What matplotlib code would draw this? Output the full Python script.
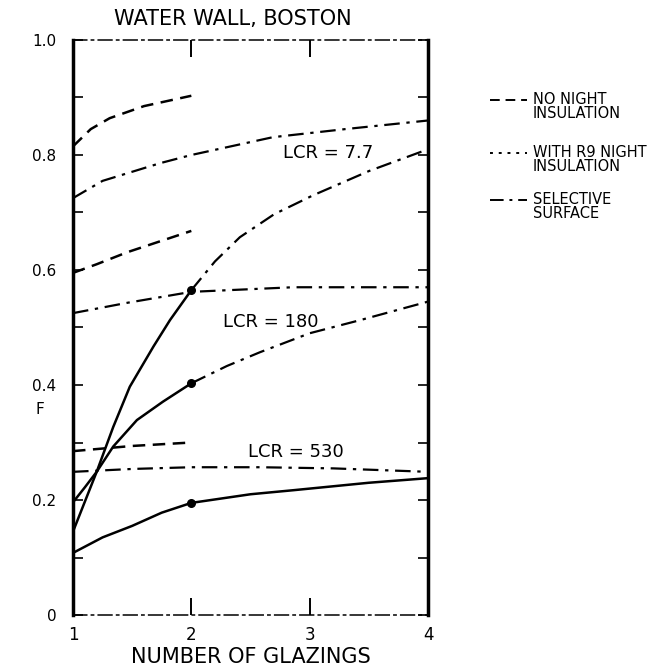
import numpy as np
import matplotlib.pyplot as plt
from matplotlib.lines import Line2D

plt.rcParams['font.family'] = ['DejaVu Sans']

# --- данные ---
# LCR = 7.7
x77_a = [1, 1.1, 1.2, 1.34, 1.48, 1.68, 1.82, 2]
f77_a = [0.145, 0.197, 0.249, 0.327, 0.397, 0.467, 0.513, 0.565]
x77_b = [2, 2.2, 2.41, 2.7, 3.03, 3.5, 4]
f77_b = [0.565, 0.615, 0.657, 0.697, 0.73, 0.772, 0.81]
x77_sel = [1, 1.25, 1.74, 2, 2.69, 3.3, 4]
f77_sel = [0.725, 0.755, 0.786, 0.80, 0.831, 0.845, 0.86]
x77_dash = [1, 1.15, 1.31, 1.6, 2]
f77_dash = [0.815, 0.845, 0.864, 0.885, 0.903]

# LCR = 180
x180_a = [1, 1.1, 1.2, 1.34, 1.54, 1.76, 2]
f180_a = [0.196, 0.222, 0.249, 0.293, 0.339, 0.371, 0.403]
x180_b = [2, 2.3, 2.58, 3.0, 3.43, 4]
f180_b = [0.403, 0.433, 0.457, 0.49, 0.513, 0.545]
x180_sel = [1, 1.46, 2, 2.86, 4]
f180_sel = [0.525, 0.543, 0.562, 0.57, 0.57]
x180_dash = [1, 1.2, 1.46, 2]
f180_dash = [0.595, 0.61, 0.631, 0.668]

# LCR = 530
x530 = [1, 1.25, 1.5, 1.75, 2, 2.5, 2.86, 3.5, 4]
f530 = [0.108, 0.135, 0.155, 0.178, 0.195, 0.21, 0.217, 0.23, 0.238]
x530_sel = [1, 1.5, 2, 2.58, 3.2, 4]
f530_sel = [0.249, 0.254, 0.257, 0.257, 0.255, 0.249]
x530_dash = [1, 1.5, 2]
f530_dash = [0.285, 0.294, 0.30]

dot_x = [2, 2, 2]
dot_f = [0.565, 0.403, 0.195]

fig = plt.figure(figsize=(6.6, 6.72), dpi=100)
ax = fig.add_axes([0.1106, 0.0848, 0.5379, 0.8557])

dashdot = (0, (7, 3, 1.5, 3))
dashed = (0, (5, 3))

for xs, fs in [(x77_a, f77_a), (x180_a, f180_a), (x530, f530)]:
    ax.plot(xs, fs, color='black', lw=1.8)
for xs, fs in [(x77_b, f77_b), (x180_b, f180_b)]:
    ax.plot(xs, fs, color='black', lw=1.6, ls=dashdot)
for xs, fs in [(x77_sel, f77_sel), (x180_sel, f180_sel), (x530_sel, f530_sel)]:
    ax.plot(xs, fs, color='black', lw=1.6, ls=dashdot)
for xs, fs in [(x77_dash, f77_dash), (x180_dash, f180_dash), (x530_dash, f530_dash)]:
    ax.plot(xs, fs, color='black', lw=1.8, ls=dashed)
ax.scatter(dot_x, dot_f, color='black', s=30, zorder=5)

ax.text(3.16, 0.803, 'LCR = 7.7', fontsize=13, ha='center', va='center')
ax.text(2.67, 0.51, 'LCR = 180', fontsize=13, ha='center', va='center')
ax.text(2.88, 0.283, 'LCR = 530', fontsize=13, ha='center', va='center')

ax.set_xlim(1, 4)
ax.set_ylim(0, 1.0)
ax.set_xticks([1, 2, 3, 4])
ax.set_xticklabels(['1', '2', '3', '4'], fontsize=12)
ax.set_yticks([0, 0.2, 0.4, 0.6, 0.8, 1.0])
ax.set_yticklabels(['0', '0.2', '0.4', '0.6', '0.8', '1.0'], fontsize=11)
ax.set_yticks(np.arange(0.1, 1.0, 0.2), minor=True)
ax.tick_params(axis='y', which='both', direction='in', length=7, width=1.2,
               right=True, pad=12)
ax.tick_params(axis='x', direction='in', length=12, width=1.4, top=True, pad=8)

ax.spines['left'].set_linewidth(2.5)
ax.spines['right'].set_linewidth(2.5)
for s in ['top', 'bottom']:
    ax.spines[s].set_linewidth(1.1)
    ax.spines[s].set_linestyle((0, (9, 3, 1.5, 3)))

ax.set_xlabel('NUMBER OF GLAZINGS', fontsize=15, labelpad=2)
fig.text(0.06, 0.39, 'F', fontsize=11, ha='center', va='center')
fig.text(233 / 660, 1 - 19 / 672, 'WATER WALL, BOSTON', fontsize=15,
         ha='center', va='center')

# легенда справа
legend_items = [
    (dashed, 'NO NIGHT\nINSULATION', 100),
    ((0, (1.5, 3)), 'WITH R9 NIGHT\nINSULATION', 153),
    (dashdot, 'SELECTIVE\nSURFACE', 200),
]
for ls, label, ypx in legend_items:
    yf = 1 - ypx / 672
    fig.add_artist(Line2D([490 / 660, 527 / 660], [yf, yf], color='black',
                          lw=1.4, ls=ls, transform=fig.transFigure))
    fig.text(533 / 660, yf + 0.012, label, fontsize=10.5, ha='left', va='top',
             linespacing=0.95)

fig.savefig('out.png', dpi=100)
